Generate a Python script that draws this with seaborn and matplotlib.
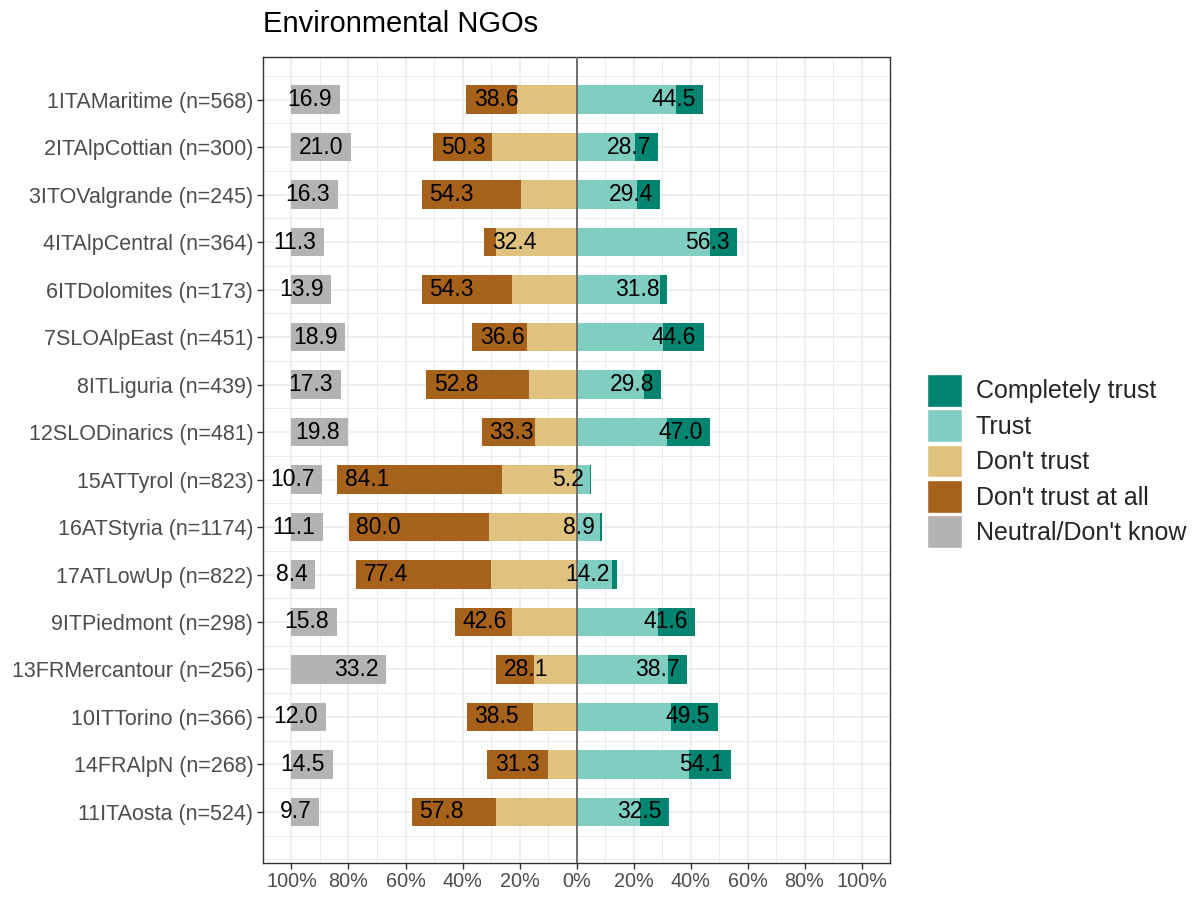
import numpy as np
import pandas as pd
import matplotlib
matplotlib.use("Agg")
import matplotlib.pyplot as plt
from matplotlib.patches import Patch
from matplotlib.ticker import FixedLocator, FuncFormatter
import seaborn as sns

sns.set_theme(style="whitegrid")
plt.rcParams["font.family"] = ["Liberation Sans", "DejaVu Sans"]

regions = ["1ITAMaritime (n=568)", "2ITAlpCottian (n=300)", "3ITOValgrande (n=245)",
           "4ITAlpCentral (n=364)", "6ITDolomites (n=173)", "7SLOAlpEast (n=451)",
           "8ITLiguria (n=439)", "12SLODinarics (n=481)", "15ATTyrol (n=823)",
           "16ATStyria (n=1174)", "17ATLowUp (n=822)", "9ITPiedmont (n=298)",
           "13FRMercantour (n=256)", "10ITTorino (n=366)", "14FRAlpN (n=268)",
           "11ITAosta (n=524)"]

dont_trust = [21.0, 29.6, 19.5, 28.3, 22.5, 17.5, 16.8, 14.7, 26.1, 30.7, 30.1, 22.6, 15.0, 15.4, 10.0, 28.3]
dont_trust_all = [17.6, 20.7, 34.8, 4.1, 31.8, 19.1, 36.0, 18.6, 58.0, 49.3, 47.3, 20.0, 13.1, 23.1, 21.3, 29.5]
trust = [35.0, 20.5, 21.4, 47.0, 29.2, 30.4, 23.7, 31.8, 4.7, 8.2, 12.3, 28.6, 32.2, 33.0, 39.4, 22.2]
complete = [9.5, 8.2, 8.0, 9.3, 2.6, 14.2, 6.1, 15.2, 0.5, 0.7, 1.9, 13.0, 6.5, 16.5, 14.7, 10.3]
neutral = [16.9, 21.0, 16.3, 11.3, 13.9, 18.9, 17.3, 19.8, 10.7, 11.1, 8.4, 15.8, 33.2, 12.0, 14.5, 9.7]

levels = ["Completely trust", "Trust", "Don't trust", "Don't trust at all", "Neutral/Don't know"]
colors = {"Completely trust": "#018571", "Trust": "#80CDC1", "Don't trust": "#DFC27D",
          "Don't trust at all": "#A6611A", "Neutral/Don't know": "#B3B3B3"}

df = pd.DataFrame({"region": regions, "dt": dont_trust, "dtaa": dont_trust_all,
                   "trust": trust, "complete": complete, "neutral": neutral})
df["neg"] = df["dt"] + df["dtaa"]
df["pos"] = df["trust"] + df["complete"]

fig = plt.figure(figsize=(11.95, 8.97), dpi=100)
ax = fig.add_axes([263 / 1195, 1 - 862.7 / 897, (890 - 263) / 1195, (862.7 - 57) / 897])

# segments: (bar length, left offset, level)
segs = [
    (-df["dtaa"], -df["dt"], "Don't trust at all"),
    (-df["dt"], 0, "Don't trust"),
    (df["trust"], 0, "Trust"),
    (df["complete"], df["trust"], "Completely trust"),
    (df["neutral"], -100, "Neutral/Don't know"),
]
for vals, left, lev in segs:
    d = pd.DataFrame({"region": df["region"], "val": vals})
    left_arr = np.full(len(d), left, dtype=float) if np.isscalar(left) else left.to_numpy()
    sns.barplot(data=d, x="val", y="region", order=regions, orient="h",
                color=colors[lev], saturation=1, width=0.6, errorbar=None,
                left=left_arr, linewidth=0, ax=ax, zorder=2)

# value labels
for i, r in df.iterrows():
    ax.text(-r["neg"] + 2.7, i, f"{r['neg']:.1f}", ha="left", va="center",
            fontsize=16.5, color="black", zorder=4)
    ax.text(r["pos"] - 2.6, i, f"{r['pos']:.1f}", ha="right", va="center",
            fontsize=16.5, color="black", zorder=4)
    ax.text(-100 + r["neutral"] - 2.7, i, f"{r['neutral']:.1f}", ha="right", va="center",
            fontsize=16.5, color="black", zorder=4)

ax.axvline(0, color="#6E6E6E", lw=1.4, zorder=3)

ax.set_xlim(-110, 110)
ax.set_ylim(16.07, -0.9)
ax.xaxis.set_major_locator(FixedLocator(np.arange(-100, 101, 20)))
ax.xaxis.set_major_formatter(FuncFormatter(lambda v, p: f"{abs(v):.0f}%"))
ax.xaxis.set_minor_locator(FixedLocator(np.arange(-90, 91, 20)))
ax.set_yticks(range(len(regions)))
ax.set_yticklabels(regions)
ax.yaxis.set_minor_locator(FixedLocator(np.arange(-0.5, 16.1, 0.5)))
ax.set_xlabel("")
ax.set_ylabel("")

ax.grid(True, which="major", color="#EBEBEB", lw=1.1, zorder=0)
ax.grid(True, which="minor", color="#EBEBEB", lw=0.7, zorder=0)
ax.set_axisbelow(True)
ax.set_facecolor("white")
for s in ax.spines.values():
    s.set_visible(True)
    s.set_color("#333333")
    s.set_linewidth(1.0)

ax.tick_params(axis="both", which="major", length=4, width=1, color="#333333",
               labelcolor="#4D4D4D", bottom=True, left=True, pad=3)
ax.tick_params(axis="both", which="minor", length=0)
ax.tick_params(axis="x", labelsize=14.3)
ax.tick_params(axis="y", labelsize=15.5)

ax.set_title("Environmental NGOs", loc="left", fontsize=21, color="black", pad=18)

handles = [Patch(facecolor=colors[l], edgecolor="white", linewidth=1) for l in levels]
fig.legend(handles, levels, loc="center left", bbox_to_anchor=(927 / 1195, 1 - 461 / 897),
           frameon=False, fontsize=18, handlelength=1.4, handleheight=1.65,
           labelspacing=0.1, handletextpad=0.55, borderpad=0, borderaxespad=0)

fig.savefig("out.png", dpi=100)
